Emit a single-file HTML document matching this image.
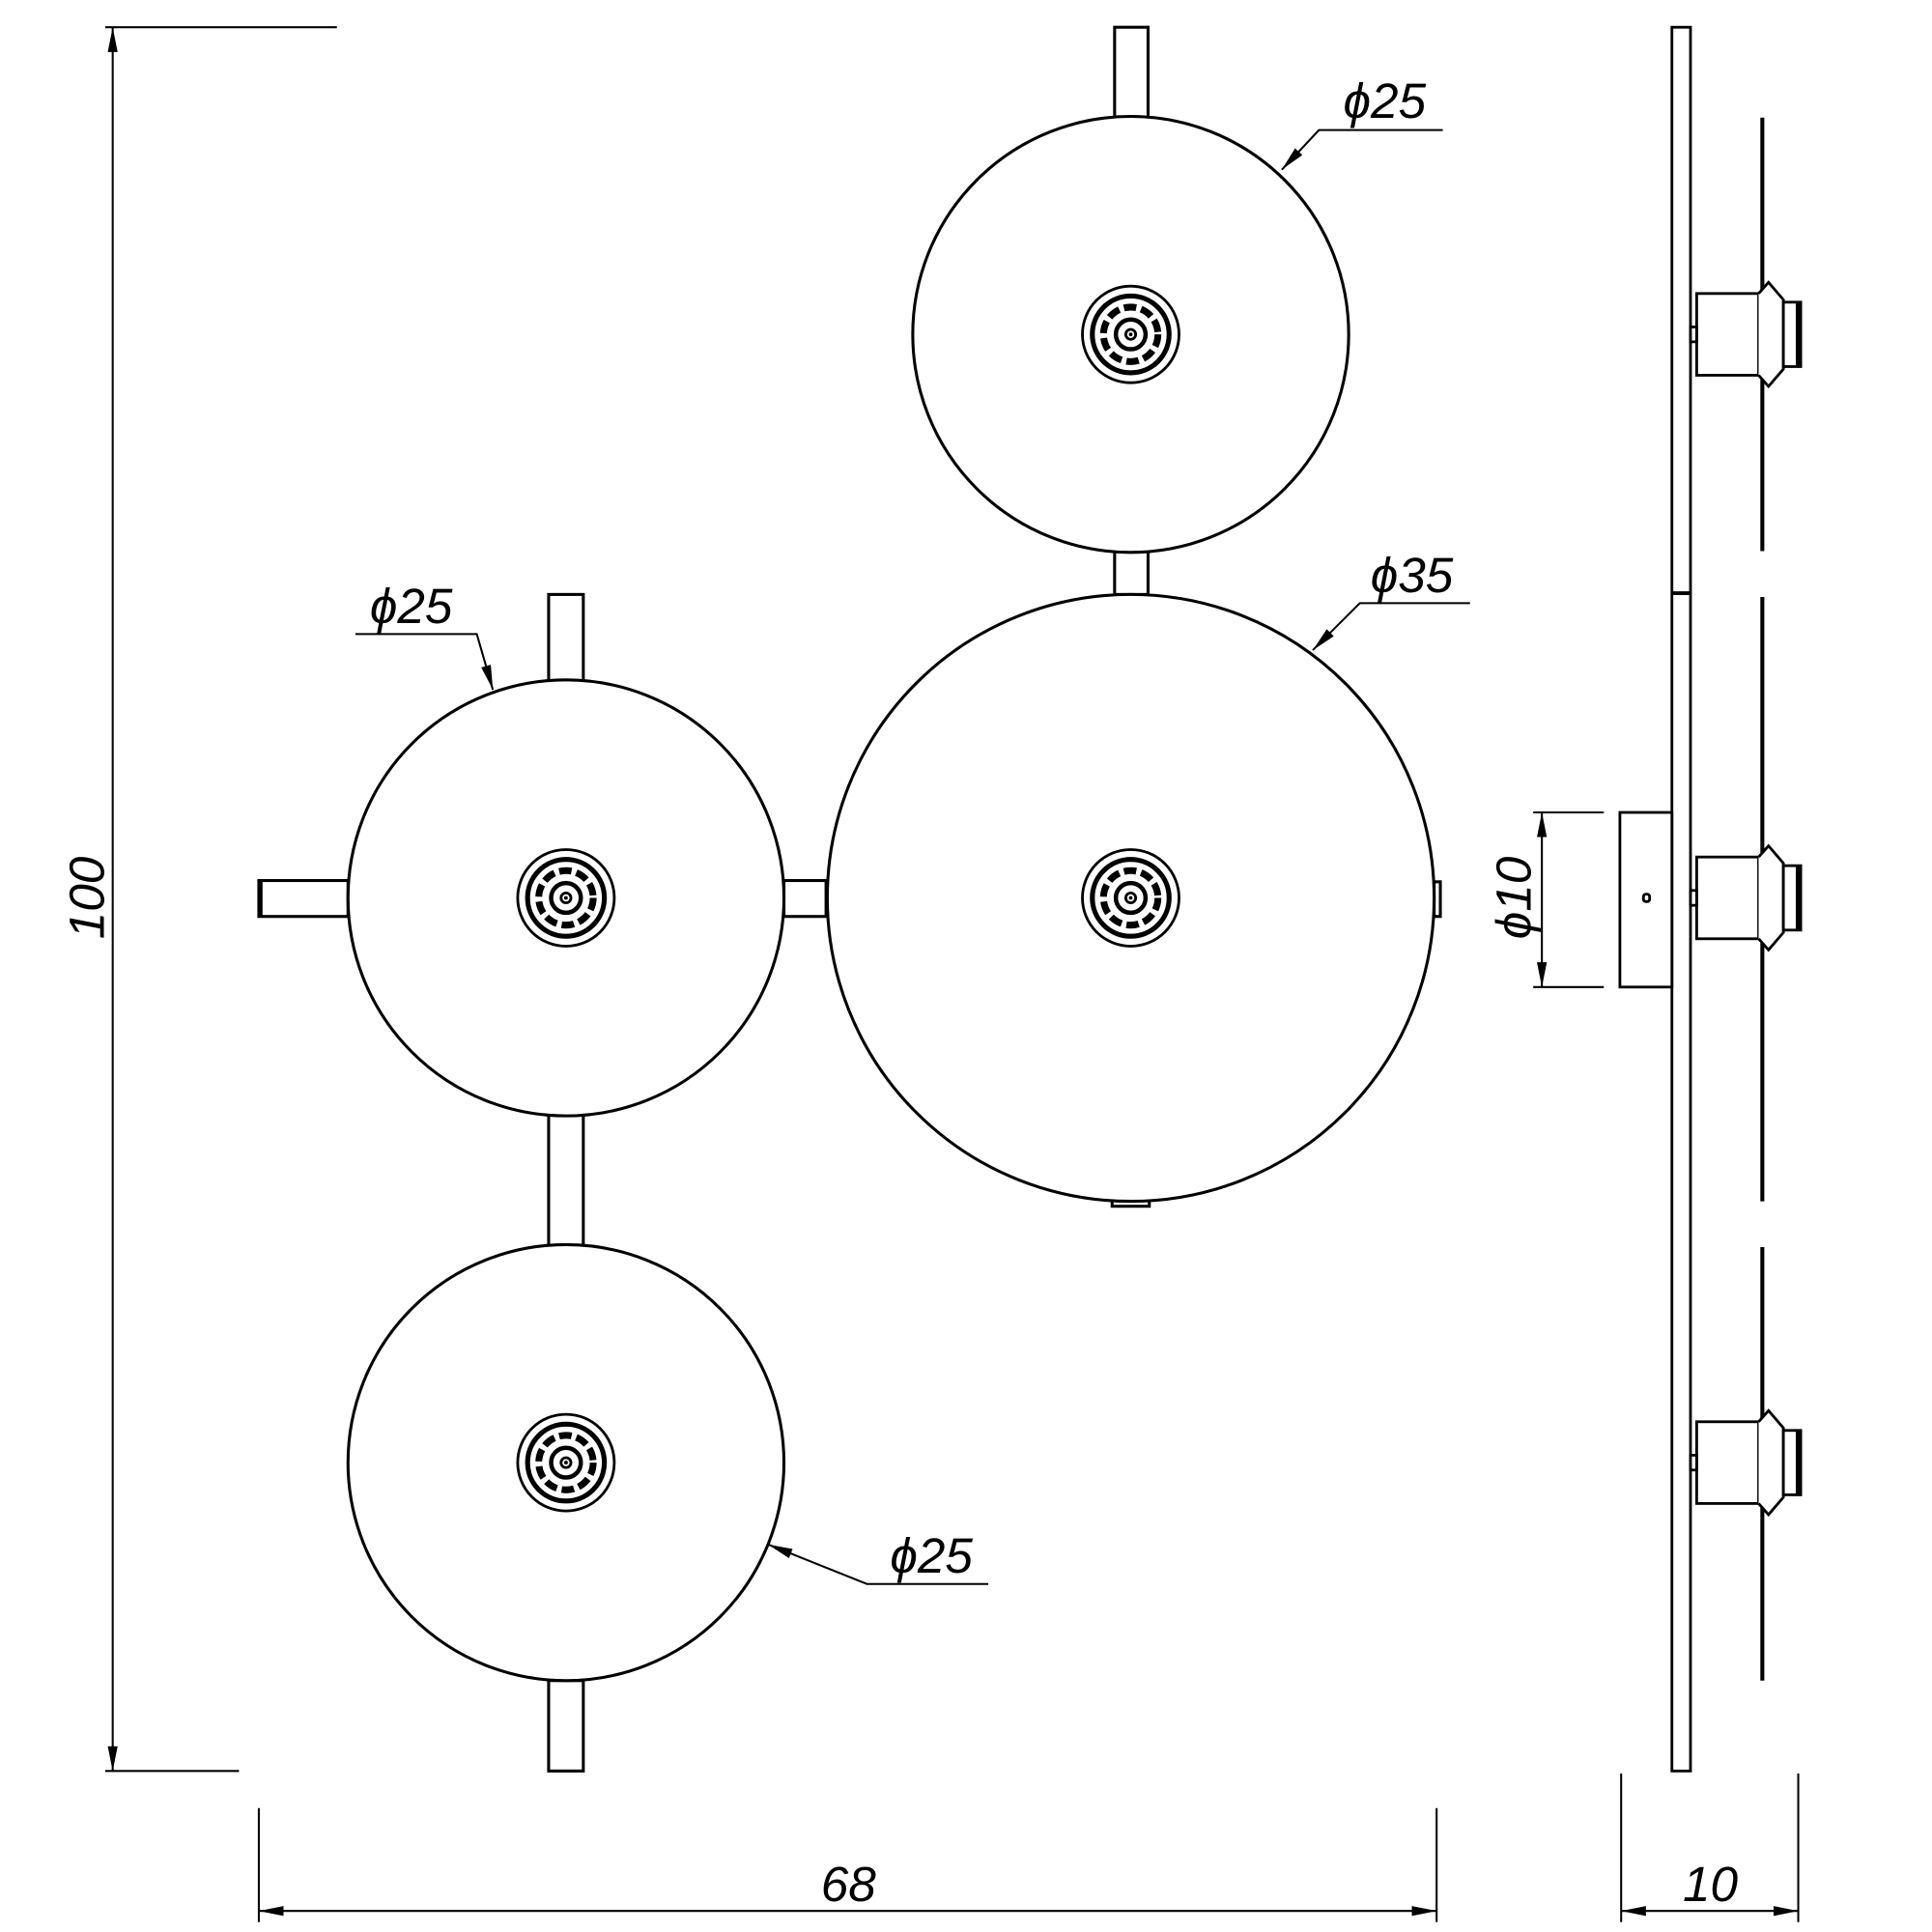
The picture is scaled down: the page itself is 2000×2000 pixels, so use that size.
<!DOCTYPE html>
<html><head><style>html,body{margin:0;padding:0;background:#fff}svg{display:block}
text{font-family:"Liberation Sans",sans-serif;font-style:italic;font-size:40px;fill:#000}</style></head>
<body>
<svg width="2000" height="2000" viewBox="0 0 1560 1560" xmlns="http://www.w3.org/2000/svg">
<defs>
<g id="ring">
<circle r="39" fill="none" stroke="#000" stroke-width="2.2"/>
<circle r="31" fill="none" stroke="#000" stroke-width="4"/>
<circle r="22" fill="none" stroke="#000" stroke-width="5.5" stroke-dasharray="10 4"/>
<circle r="12" fill="none" stroke="#000" stroke-width="3.5"/>
<circle r="4" fill="none" stroke="#000" stroke-width="2.2"/>
</g>
<marker id="ar" viewBox="0 0 20 8" refX="20" refY="4" markerWidth="20" markerHeight="8" markerUnits="userSpaceOnUse" orient="auto-start-reverse"><path d="M0,0 L20,4 L0,8 z" fill="#000"/></marker>
<g id="fix" fill="#fff" stroke="#000" stroke-width="2.2">
<rect x="1370" y="-33" width="50" height="66"/>
<path d="M1420,-33 L1428,-42 L1440,-28 L1440,28 L1428,42 L1420,33"/>
<rect x="1440" y="-26" width="14" height="52"/>
<line x1="1452" y1="-26" x2="1452" y2="26" stroke-width="4"/>
<rect x="1365" y="-6" width="5" height="12"/>
</g>
</defs>
<g fill="#fff" stroke="#000" stroke-width="2.4">
<rect x="900" y="22" width="27" height="73"/>
<rect x="900" y="445" width="27" height="35"/>
<rect x="443" y="480" width="28" height="70"/>
<rect x="209" y="711" width="72" height="29"/>
<line x1="210" y1="711" x2="210" y2="740" stroke-width="4"/>
<rect x="633" y="711" width="34" height="29"/>
<rect x="443" y="900" width="28" height="106"/>
<rect x="443" y="1357" width="28" height="73"/>
<rect x="898" y="966" width="30" height="8"/>
<rect x="1158" y="712" width="5" height="28"/>
<circle cx="913" cy="270" r="176"/>
<circle cx="913" cy="725" r="245"/>
<circle cx="457" cy="725" r="176"/>
<circle cx="457" cy="1181" r="176"/>
</g>
<use href="#ring" x="913" y="270"/>
<use href="#ring" x="913" y="725"/>
<use href="#ring" x="457" y="725"/>
<use href="#ring" x="457" y="1181"/>
<g fill="#000"><circle cx="913" cy="270" r="1.5"/><circle cx="913" cy="725" r="1.5"/><circle cx="457" cy="725" r="1.5"/><circle cx="457" cy="1181" r="1.5"/></g>

<g fill="#fff" stroke="#000" stroke-width="2.2">
<rect x="1350" y="22" width="15" height="1408"/>
<line x1="1350" y1="479" x2="1365" y2="479" stroke-width="3"/>
<rect x="1308" y="656" width="42" height="141"/>
<rect x="1327" y="722" width="5" height="6" rx="2"/>
</g>
<g stroke="#000" stroke-width="3.2">
<line x1="1423" y1="95" x2="1423" y2="445"/>
<line x1="1423" y1="482" x2="1423" y2="970"/>
<line x1="1423" y1="1007" x2="1423" y2="1357"/>
</g>
<use href="#fix" y="270"/>
<use href="#fix" y="725"/>
<use href="#fix" y="1181"/>

<g stroke="#000" stroke-width="1.6" fill="none">
<line x1="85" y1="22" x2="272" y2="22"/>
<line x1="85" y1="1430" x2="193" y2="1430"/>
<line x1="91" y1="22" x2="91" y2="1430" marker-start="url(#ar)" marker-end="url(#ar)"/>
<line x1="209" y1="1460" x2="209" y2="1552"/>
<line x1="1160" y1="1460" x2="1160" y2="1552"/>
<line x1="209" y1="1543" x2="1160" y2="1543" marker-start="url(#ar)" marker-end="url(#ar)"/>
<line x1="1309" y1="1432" x2="1309" y2="1552"/>
<line x1="1452" y1="1432" x2="1452" y2="1552"/>
<line x1="1309" y1="1543" x2="1452" y2="1543" marker-start="url(#ar)" marker-end="url(#ar)"/>
<line x1="1238" y1="656" x2="1295" y2="656"/>
<line x1="1238" y1="797" x2="1295" y2="797"/>
<line x1="1245" y1="656" x2="1245" y2="797" marker-start="url(#ar)" marker-end="url(#ar)"/>
<polyline points="1165,105 1065,105 1035,137" marker-end="url(#ar)"/>
<polyline points="1187,487 1098,487 1060,525" marker-end="url(#ar)"/>
<polyline points="287,512 385,512 398,557" marker-end="url(#ar)"/>
<polyline points="798,1279 700,1279 620,1247" marker-end="url(#ar)"/>
</g>
<text x="70" y="725" text-anchor="middle" transform="rotate(-90 70 725)" dy="14">100</text>
<text x="685" y="1535" text-anchor="middle">68</text>
<text x="1381" y="1535" text-anchor="middle">10</text>
<text x="1222" y="725" text-anchor="middle" transform="rotate(-90 1222 725)" dy="14">ϕ10</text>
<text x="1118" y="95" text-anchor="middle">ϕ25</text>
<text x="1140" y="478" text-anchor="middle">ϕ35</text>
<text x="332" y="503" text-anchor="middle">ϕ25</text>
<text x="752" y="1270" text-anchor="middle">ϕ25</text>
</svg>
</body></html>
